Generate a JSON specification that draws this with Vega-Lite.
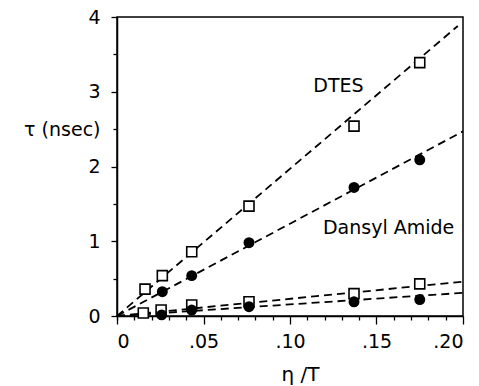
{
  "$schema": "https://vega.github.io/schema/vega-lite/v6.json",
  "width": 346,
  "height": 299,
  "autosize": {"type": "none"},
  "padding": {"left": 117, "top": 17, "right": 16, "bottom": 70},
  "background": "white",
  "config": {
    "view": {"stroke": "black", "strokeWidth": 1.5},
    "font": "DejaVu Sans",
    "axis": {
      "domainColor": "black", "domainWidth": 1.5, "tickColor": "black", "tickWidth": 1.3,
      "labelColor": "black", "titleColor": "black", "labelFont": "DejaVu Sans", "titleFont": "DejaVu Sans",
      "labelFontSize": 19, "titleFontSize": 19, "titleFontWeight": "normal", "grid": false, "labelOverlap": false
    }
  },
  "datasets": {
    "points": [
      {"group": "DTES", "x": 0.0162, "y": 0.36},
      {"group": "DTES", "x": 0.0262, "y": 0.54},
      {"group": "DTES", "x": 0.0432, "y": 0.86},
      {"group": "DTES", "x": 0.0763, "y": 1.47},
      {"group": "DTES", "x": 0.137, "y": 2.54},
      {"group": "DTES", "x": 0.175, "y": 3.39},
      {"group": "Dansyl", "x": 0.0262, "y": 0.325},
      {"group": "Dansyl", "x": 0.0432, "y": 0.54},
      {"group": "Dansyl", "x": 0.0763, "y": 0.98},
      {"group": "Dansyl", "x": 0.137, "y": 1.72},
      {"group": "Dansyl", "x": 0.175, "y": 2.09},
      {"group": "DTES2", "x": 0.0152, "y": 0.04},
      {"group": "DTES2", "x": 0.0255, "y": 0.08},
      {"group": "DTES2", "x": 0.0432, "y": 0.147},
      {"group": "DTES2", "x": 0.0763, "y": 0.19},
      {"group": "DTES2", "x": 0.137, "y": 0.3},
      {"group": "DTES2", "x": 0.175, "y": 0.43},
      {"group": "Dansyl2", "x": 0.0258, "y": 0.015},
      {"group": "Dansyl2", "x": 0.0432, "y": 0.08},
      {"group": "Dansyl2", "x": 0.0763, "y": 0.125},
      {"group": "Dansyl2", "x": 0.137, "y": 0.19},
      {"group": "Dansyl2", "x": 0.175, "y": 0.22}
    ],
    "fits": [
      {"line": "a", "x": 0, "y": 0}, {"line": "a", "x": 0.197, "y": 3.88},
      {"line": "b", "x": 0, "y": 0}, {"line": "b", "x": 0.2, "y": 2.47},
      {"line": "c", "x": 0, "y": 0}, {"line": "c", "x": 0.2, "y": 0.46},
      {"line": "d", "x": 0, "y": 0}, {"line": "d", "x": 0.2, "y": 0.31}
    ],
    "labels": [
      {"label": "DTES", "x": 0.128, "y": 3.08},
      {"label": "Dansyl Amide", "x": 0.157, "y": 1.18}
    ]
  },
  "resolve": {"axis": {"x": "independent", "y": "independent"}},
  "layer": [
    {
      "data": {"name": "fits"},
      "mark": {"type": "line", "opacity": 0},
      "encoding": {
        "x": {
          "field": "x", "type": "quantitative",
          "scale": {"domain": [0, 0.2], "nice": false},
          "axis": {
            "orient": "bottom",
            "values": [0,0.01,0.02,0.03,0.04,0.06,0.07,0.08,0.09,0.11,0.12,0.13,0.14,0.16,0.17,0.18,0.19],
            "labels": false, "domain": false, "tickSize": 4, "title": null
          }
        },
        "y": {
          "field": "y", "type": "quantitative",
          "scale": {"domain": [0, 4], "nice": false},
          "axis": {
            "orient": "left",
            "values": [0.5,1.5,2.5,3.5],
            "labels": false, "domain": false, "tickSize": 4, "title": null
          }
        },
        "detail": {"field": "line"}
      }
    },
    {
      "data": {"name": "fits"},
      "mark": {"type": "line", "color": "black", "strokeWidth": 1.8, "strokeDash": [8, 5]},
      "encoding": {
        "x": {
          "field": "x", "type": "quantitative",
          "scale": {"domain": [0, 0.2], "nice": false},
          "axis": {
            "orient": "bottom",
            "values": [0, 0.05, 0.1, 0.15, 0.2],
            "labelExpr": "datum.value == 0 ? '0' : replace(format(datum.value, '.2f'), '0.', '.')",
            "labelOverlap": false,
            "tickSize": 8,
            "labelPadding": 8,
            "title": "η /T",
            "titleFontSize": 20,
            "titleAnchor": "start",
            "titleAlign": "center",
            "titleX": 183,
            "titleY": 64,
            "titleBaseline": "alphabetic"
          }
        },
        "y": {
          "field": "y", "type": "quantitative",
          "scale": {"domain": [0, 4], "nice": false},
          "axis": {
            "orient": "left",
            "values": [0, 1, 2, 3, 4],
            "format": "d",
            "labelOverlap": false,
            "tickSize": 6,
            "labelPadding": 11,
            "title": "τ (nsec)",
            "titleAngle": 0,
            "titleAlign": "right",
            "titleBaseline": "middle",
            "titleAnchor": "start",
            "titleX": -17,
            "titleY": 112
          }
        },
        "detail": {"field": "line"}
      }
    },
    {
      "data": {"name": "points"},
      "transform": [{"filter": "datum.group == 'DTES' || datum.group == 'DTES2'"}],
      "mark": {"type": "point", "shape": "square", "filled": true, "fill": "white", "stroke": "black", "strokeWidth": 1.6, "size": 100, "opacity": 1},
      "encoding": {
        "x": {"field": "x", "type": "quantitative", "axis": null},
        "y": {"field": "y", "type": "quantitative", "axis": null}
      }
    },
    {
      "data": {"name": "points"},
      "transform": [{"filter": "datum.group == 'Dansyl' || datum.group == 'Dansyl2'"}],
      "mark": {"type": "point", "shape": "circle", "filled": true, "color": "black", "size": 120, "opacity": 1},
      "encoding": {
        "x": {"field": "x", "type": "quantitative", "axis": null},
        "y": {"field": "y", "type": "quantitative", "axis": null}
      }
    },
    {
      "data": {"name": "labels"},
      "mark": {"type": "text", "font": "DejaVu Sans", "fontSize": 19, "color": "black", "align": "center", "baseline": "middle"},
      "encoding": {
        "x": {"field": "x", "type": "quantitative", "axis": null},
        "y": {"field": "y", "type": "quantitative", "axis": null},
        "text": {"field": "label"}
      }
    }
  ]
}
